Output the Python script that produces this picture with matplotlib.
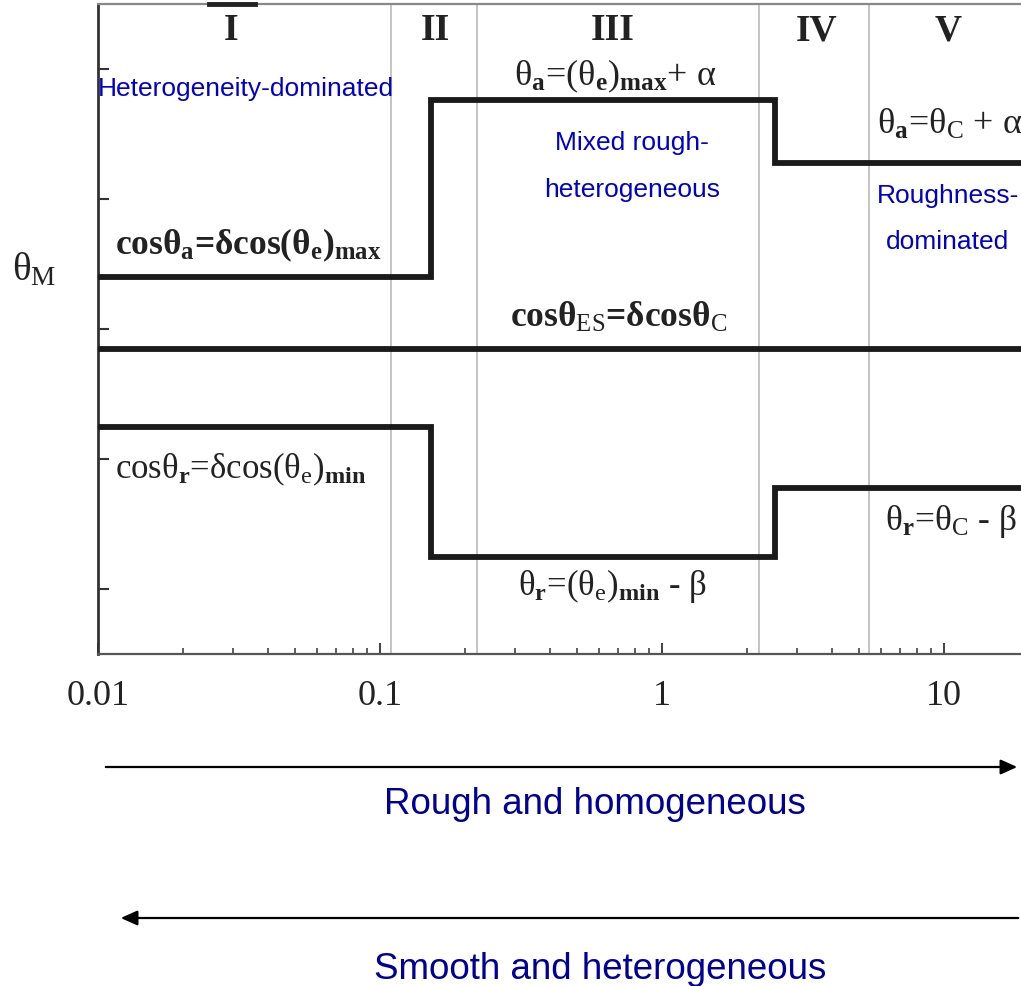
import matplotlib
matplotlib.use("Agg")
import matplotlib.pyplot as plt
from matplotlib.ticker import LogLocator, NullFormatter, FixedLocator

plt.rcParams['mathtext.fontset'] = 'custom'
plt.rcParams['mathtext.rm'] = 'Liberation Serif'
plt.rcParams['mathtext.bf'] = 'Liberation Serif:bold'
plt.rcParams['mathtext.it'] = 'Liberation Serif:italic'

# regime boundaries (gray) and where the contact angle lines jump
region_bounds = [0.109, 0.220, 2.21, 5.42]
region_names = ['I', 'II', 'III', 'IV', 'V']
region_name_x = [0.0297, 0.157, 0.667, 3.52, 10.3]
step_x = [0.01, 0.152, 2.52, 18.75]

adv_levels = [2.90, 4.26, 3.78]   # advancing
rec_levels = [1.75, 0.75, 1.28]   # receding
es_level = 2.35                   # equilibrium

SERIF = 'Liberation Serif'
SANS = 'Liberation Sans'
BLUE = '#0000cc'
NAVY = '#000099'

fig = plt.figure(figsize=(10.21, 9.87), dpi=100)
ax = fig.add_axes([98 / 1021, 1 - 655 / 987, 923 / 1021, 650 / 987])
ax.set_xscale('log')
ax.set_xlim(step_x[0], step_x[-1])
ax.set_ylim(0, 5)

for b in region_bounds:
    ax.axvline(b, color='#c4c4c4', lw=1.4, zorder=1)


def step_line(levels):
    xs, ys = [], []
    for i, lv in enumerate(levels):
        xs += [step_x[i], step_x[i + 1]]
        ys += [lv, lv]
    ax.plot(xs, ys, color='#1a1a1a', lw=4.2, solid_joinstyle='miter',
            solid_capstyle='butt', zorder=3)


step_line(adv_levels)
step_line(rec_levels)
ax.plot([step_x[0], step_x[-1]], [es_level, es_level], color='#1a1a1a', lw=4.2,
        solid_capstyle='butt', zorder=3)

# axes styling
ax.spines['right'].set_visible(False)
ax.spines['left'].set_color('#333333')
ax.spines['left'].set_linewidth(2.0)
ax.spines['bottom'].set_color('#555555')
ax.spines['bottom'].set_linewidth(1.6)
ax.spines['top'].set_color('#888888')
ax.spines['top'].set_linewidth(1.6)
ax.plot([0.0247, 0.0361], [5, 5], color='#222222', lw=3.5, clip_on=False, zorder=4)

ax.xaxis.set_minor_locator(LogLocator(base=10, subs=range(2, 10), numticks=50))
ax.xaxis.set_minor_formatter(NullFormatter())
ax.set_xticks([0.01, 0.1, 1, 10])
ax.set_xticklabels(['0.01', '0.1', '1', '10'], fontfamily=SERIF, fontsize=26,
                   color='#222222')
ax.yaxis.set_major_locator(FixedLocator([0.5, 1.5, 2.5, 3.5, 4.5]))
ax.set_yticklabels([])
ax.tick_params(axis='x', which='major', direction='in', length=8, width=1.3,
               color='#333333', pad=18)
ax.tick_params(axis='x', which='minor', direction='in', length=4.5, width=1.1,
               color='#333333')
ax.tick_params(axis='y', which='major', direction='in', length=8, width=1.5,
               color='#333333')
ax.tick_params(top=False, right=False, which='both')

for name, xr in zip(region_names, region_name_x):
    ax.text(xr, 4.73, name, ha='center', va='baseline', family=SERIF,
            fontweight='bold', fontsize=27, color='#222222')

# relations for each line
fk = dict(family=SERIF, color='#222222', va='baseline')
ax.text(0.01148, 3.08, r'cosθ$_\mathbf{a}$=δcos(θ$_\mathbf{e}$)$_\mathbf{max}$',
        ha='left', fontsize=25.5, fontweight='bold', **fk)
ax.text(0.681, 4.38, r'θ$_\mathbf{a}$=(θ$_\mathbf{e}$)$_\mathbf{max}$+ α',
        ha='center', fontsize=26, **fk)
ax.text(5.78, 4.01, r'θ$_\mathbf{a}$=θ$_\mathrm{C}$ + α',
        ha='left', fontsize=26, **fk)
ax.text(0.704, 2.52, r'cosθ$_\mathrm{ES}$=δcosθ$_\mathrm{C}$',
        ha='center', fontsize=25.5, fontweight='bold', **fk)
ax.text(0.01148, 1.36, r'cosθ$_\mathbf{r}$=δcos(θ$_\mathrm{e}$)$_\mathbf{min}$',
        ha='left', fontsize=25, **fk)
ax.text(0.665, 0.46, r'θ$_\mathbf{r}$=(θ$_\mathrm{e}$)$_\mathbf{min}$ - β',
        ha='center', fontsize=25, **fk)
ax.text(6.18, 0.96, r'θ$_\mathbf{r}$=θ$_\mathrm{C}$ - β',
        ha='left', fontsize=25.5, **fk)

# regime descriptions
bk = dict(family=SANS, color=BLUE, va='baseline', fontsize=19)
ax.text(0.01, 4.30, 'Heterogeneity-dominated', ha='left', **bk)
ax.text(0.783, 3.885, 'Mixed rough-', ha='center', **bk)
ax.text(0.783, 3.52, 'heterogeneous', ha='center', **bk)
ax.text(10.3, 3.48, 'Roughness-', ha='center', **bk)
ax.text(10.3, 3.12, 'dominated', ha='center', **bk)

fig.text(12 / 1021, 1 - 280 / 987, r'θ$_\mathrm{M}$', family=SERIF, fontsize=28,
         color='#222222', ha='left', va='baseline')

# direction arrows below the axis
ax.annotate('', xy=(1020, 987 - 768), xytext=(103, 987 - 768),
            xycoords='figure pixels', textcoords='figure pixels',
            arrowprops=dict(arrowstyle='-|>,head_length=1.0,head_width=0.45',
                            color='black', lw=1.6))
ax.annotate('', xy=(118, 987 - 919), xytext=(1021, 987 - 919),
            xycoords='figure pixels', textcoords='figure pixels',
            arrowprops=dict(arrowstyle='-|>,head_length=1.0,head_width=0.45',
                            color='black', lw=1.6))
fig.text(595 / 1021, 1 - 814 / 987, 'Rough and homogeneous', family=SANS,
         fontsize=26.5, color=NAVY, ha='center', va='baseline')
fig.text(600 / 1021, 1 - 979 / 987, 'Smooth and heterogeneous', family=SANS,
         fontsize=26.5, color=NAVY, ha='center', va='baseline')

fig.savefig('out.png', dpi=100)
